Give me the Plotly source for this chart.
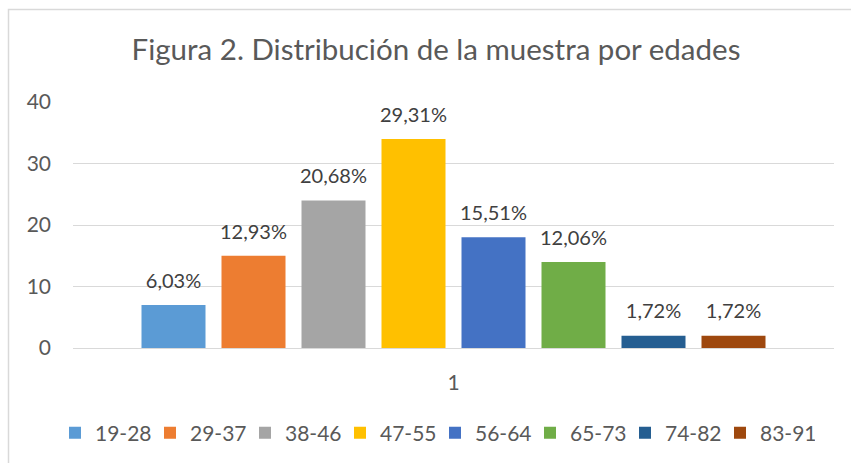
import plotly.graph_objects as go

categories = ["1"]
groups = ["19-28", "29-37", "38-46", "47-55", "56-64", "65-73", "74-82", "83-91"]
counts = [7, 15, 24, 34, 18, 14, 2, 2]
labels = ["6,03%", "12,93%", "20,68%", "29,31%", "15,51%", "12,06%", "1,72%", "1,72%"]
colors = ["#5B9BD5", "#ED7D31", "#A5A5A5", "#FFC000", "#4472C4", "#70AD47", "#255E91", "#9E480E"]
y_ticks = [0, 10, 20, 30, 40]

FONT = "Lato"
W, H = 851, 463
ml, mr, mt, mb = 73, 17, 102, 115

fig = go.Figure()
for g, c, col in zip(groups, counts, colors):
    fig.add_trace(go.Bar(
        x=categories, y=[c], name=g, marker_color=col, marker_line_width=0,
        hoverinfo="skip",
    ))
for g, c, lab in zip(groups, counts, labels):
    fig.add_trace(go.Scatter(
        x=categories, y=[c], name=g + " label", mode="markers+text",
        text=[lab], textposition="top center", cliponaxis=False,
        marker=dict(size=18, opacity=0), showlegend=False,
        textfont=dict(family=FONT, size=20, color="#404040"),
        hoverinfo="skip",
    ))

pw = W - ml - mr
ph = H - mt - mb
def px_x(x):
    return (x - ml) / pw
def px_y(y):
    return (H - mb - y) / ph

fig.update_layout(
    width=W, height=H,
    margin=dict(l=ml, r=mr, t=mt, b=mb, autoexpand=False),
    paper_bgcolor="white", plot_bgcolor="white",
    barmode="group", bargap=0.159, bargroupgap=0.2,
    scattermode="group", scattergap=0.159,
    title=dict(text="Figura 2. Distribución de la muestra por edades",
               x=436 / W, xanchor="center", xref="container", y=1 - 50 / H, yanchor="middle",
               font=dict(family=FONT, size=29.5, color="#595959")),
    xaxis=dict(showgrid=False, showline=True, linecolor="#D9D9D9", linewidth=1,
               tickfont=dict(family=FONT, size=21, color="#595959"), ticks="",
               ticklabelstandoff=16),
    yaxis=dict(range=[0, 40], tickvals=y_ticks, showgrid=True, gridcolor="#D9D9D9",
               gridwidth=1, zeroline=False, showline=False, ticks="",
               tickfont=dict(family=FONT, size=21, color="#595959"), ticklabelstandoff=21),
    legend=dict(orientation="h", x=px_x(435), xanchor="center", y=px_y(433), yanchor="middle",
                font=dict(family=FONT, size=21, color="#595959"), itemwidth=30,
                entrywidth=50, traceorder="normal"),
    showlegend=True,
    shapes=[dict(type="rect", xref="paper", yref="paper",
                 x0=px_x(8.5), x1=px_x(W + 5), y0=px_y(H + 5), y1=px_y(9.5),
                 line=dict(color="#D9D9D9", width=1.5), fillcolor="rgba(0,0,0,0)",
                 layer="below")],
)
fig.write_html("out.html", config={"displayModeBar": False},
               post_script="document.body.style.margin='0';")
